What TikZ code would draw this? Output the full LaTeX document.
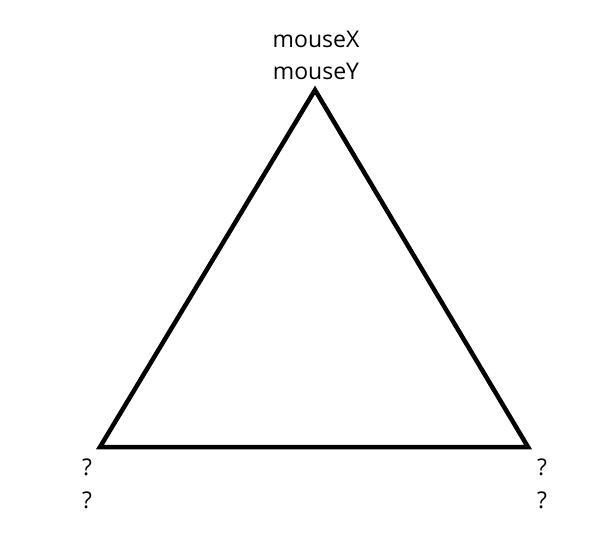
\documentclass[tikz,border=0pt]{standalone}
\usepackage{fontspec}
\setmainfont{Open Sans}
\begin{document}
\begin{tikzpicture}[x=1pt,y=-1pt,
  lbl/.style={inner sep=0pt,anchor=base,font=\fontsize{23}{23}\selectfont}]
\useasboundingbox (0,0) rectangle (606,544);
\coordinate (T) at (315,90);
\coordinate (L) at (100,447);
\coordinate (R) at (528,447);
\draw[line width=4.5pt,line join=miter] (T) -- (L) -- (R) -- cycle;
\node[lbl] (mx) at (316,47) {mouseX};
\node[lbl] (my) at (316,79) {mouseY};
\node[lbl] (l1) at (87,475) {?};
\node[lbl] (l2) at (87,508) {?};
\node[lbl] (r1) at (542,475) {?};
\node[lbl] (r2) at (542,508) {?};
\end{tikzpicture}
\end{document}
